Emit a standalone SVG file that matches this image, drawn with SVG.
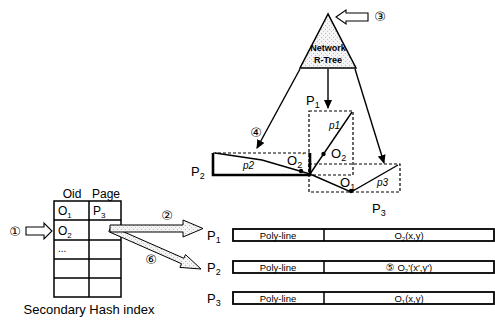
<svg xmlns="http://www.w3.org/2000/svg" width="495" height="322" viewBox="0 0 495 322">
<defs>
<pattern id="stip" width="4" height="4" patternUnits="userSpaceOnUse"><rect width="4" height="4" fill="#f4f4f4"/><rect x="1" y="1" width="1" height="1" fill="#b8b8b8"/><rect x="3" y="3" width="1" height="1" fill="#c8c8c8"/></pattern>
<marker id="ah" markerWidth="9" markerHeight="8" refX="8" refY="4" orient="auto" markerUnits="userSpaceOnUse"><path d="M0,0 L9,4 L0,8 z" fill="#000"/></marker>
</defs>
<style>
text{font-family:"Liberation Sans",Arial,sans-serif;fill:#000}
.c{font-family:"DejaVu Sans",sans-serif;font-size:13px}
.lbl{font-size:13px}
.it{font-style:italic;font-size:10px}
.sm{font-size:9px;font-weight:bold}
.rt{font-size:9.5px}
.ln{fill:none;stroke:#000;stroke-width:1.4}
.dash{fill:none;stroke:#000;stroke-width:1.2;stroke-dasharray:3,2}
.rec{fill:#fff;stroke:#000;stroke-width:1.8}
.cell{fill:#fff;stroke:#000;stroke-width:1.5}
.blk{fill:url(#stip);stroke:#000;stroke-width:1}
.hol{fill:#fff;stroke:#000;stroke-width:1.1}
</style>
<rect width="495" height="322" fill="#fff"/>

<g id="rtree">
<polygon points="328,14 300,68 356,68" fill="url(#stip)" stroke="#000" stroke-width="1.5"/>
<text x="328" y="51" text-anchor="middle" class="sm">Network</text>
<text x="328" y="63" text-anchor="middle" class="sm">R-Tree</text>
</g>

<g id="step3">
<polygon class="hol" points="336,17 346,10 346,13 368,13 368,21 346,21 346,24"/>
<text x="380" y="21" text-anchor="middle" class="c">③</text>
</g>

<g id="pages-map">
<text x="306" y="105" class="lbl">P<tspan font-size="9" dy="3">1</tspan></text>
<rect class="dash" x="309" y="111" width="44" height="64"/>
<rect class="dash" x="309" y="164" width="91" height="28"/>
<line x1="213" y1="153" x2="310" y2="153" class="dash"/>
<path d="M310,153 V175 H213 V153" fill="none" stroke="#000" stroke-width="2.6"/>
<text x="191" y="176" class="lbl">P<tspan font-size="9" dy="3">2</tspan></text>
<text x="372" y="213" class="lbl">P<tspan font-size="9" dy="3">3</tspan></text>
<polyline class="ln" points="352,112 310,174"/>
<polyline class="ln" points="215,153 262,160 310,174"/>
<polyline class="ln" points="310,174 351,192 398,165"/>
<circle cx="323.5" cy="154" r="2.2" fill="#000"/>
<circle cx="301" cy="171" r="2.2" fill="#000"/>
<circle cx="351" cy="191" r="2.2" fill="#000"/>
<text x="331" y="158" class="lbl" font-size="14">O<tspan font-size="9" dy="3">2</tspan></text>
<text x="287" y="165" class="lbl" font-size="14">O<tspan font-size="9" dy="3">2</tspan><tspan font-size="8" dy="-10">'</tspan></text>
<text x="340" y="187" class="lbl" font-size="14">O<tspan font-size="9" dy="3">1</tspan></text>
<text x="329" y="129" class="it">p1</text>
<text x="243" y="169" class="it">p2</text>
<text x="377" y="186" class="it">p3</text>
<text x="256" y="137" text-anchor="middle" class="c">④</text>
</g>

<g id="hash-index">
<text x="72" y="198" text-anchor="middle" font-size="12">Oid</text>
<text x="106" y="198" text-anchor="middle" font-size="12">Page</text>
<rect class="cell" x="54" y="201" width="67" height="96"/>
<path d="M89,201 V297 M54,220 H121 M54,240 H121 M54,259 H121 M54,278 H121" stroke="#000" stroke-width="1.5" fill="none"/>
<text x="58" y="215" font-size="12">O<tspan font-size="8" dy="3">1</tspan></text>
<text x="93" y="215" font-size="12">P<tspan font-size="8" dy="3">3</tspan></text>
<text x="58" y="235" font-size="12">O<tspan font-size="8" dy="3">2</tspan></text>
<text x="58" y="252" font-size="10">...</text>
<text x="89" y="314" text-anchor="middle" font-size="13">Secondary Hash index</text>
</g>

<g id="step1">
<text x="15" y="236" text-anchor="middle" class="c">①</text>
<polygon class="hol" points="26,227 44,227 44,223 52,231 44,239 44,235 26,235"/>
</g>

<g id="record-p1">
<text x="207" y="240" class="lbl">P<tspan font-size="9" dy="3">1</tspan></text>
<rect class="rec" x="233" y="229" width="261" height="12"/>
<line x1="324" y1="229" x2="324" y2="241" stroke="#000" stroke-width="1.5"/>
<text x="278" y="238.5" text-anchor="middle" class="rt">Poly-line</text>
<text x="409" y="238.5" text-anchor="middle" class="rt">O<tspan font-size="6" dy="2">2</tspan><tspan dy="-2">(x,y)</tspan></text>
</g>

<g id="record-p2">
<text x="207" y="272" class="lbl">P<tspan font-size="9" dy="3">2</tspan></text>
<rect class="rec" x="233" y="261" width="261" height="12"/>
<line x1="324" y1="261" x2="324" y2="273" stroke="#000" stroke-width="1.5"/>
<text x="278" y="270.5" text-anchor="middle" class="rt">Poly-line</text>
<text x="409" y="270.5" text-anchor="middle" class="rt"><tspan font-family="DejaVu Sans" font-size="10">⑤</tspan> O<tspan font-size="6" dy="2">2</tspan><tspan dy="-2">'(x',y')</tspan></text>
</g>

<g id="record-p3">
<text x="207" y="303" class="lbl">P<tspan font-size="9" dy="3">3</tspan></text>
<rect class="rec" x="233" y="292" width="261" height="12"/>
<line x1="324" y1="292" x2="324" y2="304" stroke="#000" stroke-width="1.5"/>
<text x="278" y="301.5" text-anchor="middle" class="rt">Poly-line</text>
<text x="409" y="301.5" text-anchor="middle" class="rt">O<tspan font-size="6" dy="2">1</tspan><tspan dy="-2">(x,y)</tspan></text>
</g>

<g id="connectors">
<line x1="300" y1="69" x2="257" y2="148" class="ln" marker-end="url(#ah)"/>
<line x1="328" y1="69" x2="328" y2="108" class="ln" marker-end="url(#ah)"/>
<line x1="355" y1="69" x2="384" y2="163" class="ln" marker-end="url(#ah)"/>
<polygon class="blk" points="111.2,226.3 183.9,258.3 185.5,254.6 201,269 179.9,267.4 181.5,263.7 108.8,231.7"/>
<polygon class="blk" points="110,225 183,225 183,220 203,228.5 183,237 183,232 110,232"/>
<text x="167" y="220" text-anchor="middle" class="c">②</text>
<text x="151" y="264" text-anchor="middle" class="c">⑥</text>
</g>
</svg>
